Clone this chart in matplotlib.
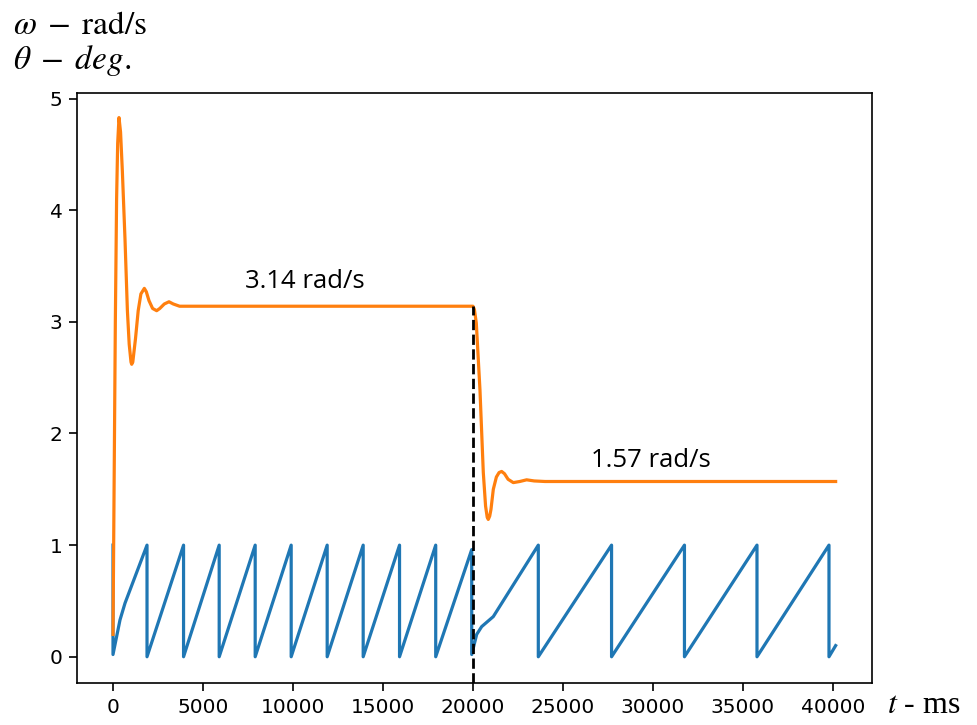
import matplotlib
matplotlib.use("Agg")
import matplotlib.pyplot as plt

# angular velocity omega (rad/s) vs time (ms)
omega_t = [0, 60, 130, 200, 260, 333, 420, 520, 667, 800, 900, 1000, 1039, 1100,
           1250, 1400, 1550, 1741, 1850, 2000, 2200, 2426, 2600, 2850, 3111,
           3350, 3700, 10000, 20000,
           20080, 20185, 20389, 20574, 20700, 20790, 20850, 20930, 21000, 21130,
           21300, 21450, 21593, 21750, 21950, 22240, 22600, 22981, 23400, 24000,
           30000, 40150]
omega_v = [0.2, 1.5, 3.0, 4.1, 4.6, 4.83, 4.7, 4.35, 3.74, 3.1, 2.8, 2.64, 2.62, 2.64,
           2.85, 3.1, 3.25, 3.30, 3.27, 3.19, 3.12, 3.10, 3.12, 3.16, 3.18,
           3.16, 3.14, 3.14, 3.14,
           3.11, 2.99, 2.39, 1.65, 1.35, 1.25, 1.23, 1.26, 1.32, 1.50,
           1.61, 1.65, 1.66, 1.64, 1.59, 1.56, 1.57, 1.585, 1.575, 1.57,
           1.57, 1.57]

# normalized angle theta vs time (ms)
theta_t = [0, 0, 389, 667, 1890, 1890, 3920, 3920, 5900, 5900, 7900, 7900,
           9900, 9900, 11900, 11900, 13900, 13900, 15920, 15920, 17930, 17930,
           19930, 19930, 20206, 20483, 21130, 23630, 23630, 27700, 27700,
           31750, 31750, 35780, 35780, 39780, 39780, 40150]
theta_v = [1.0, 0.02, 0.33, 0.48, 1.0, 0.0, 1.0, 0.0, 1.0, 0.0, 1.0, 0.0,
           1.0, 0.0, 1.0, 0.0, 1.0, 0.0, 1.0, 0.0, 1.0, 0.0,
           0.96, 0.02, 0.2, 0.27, 0.36, 1.0, 0.0, 1.0, 0.0,
           1.0, 0.0, 1.0, 0.0, 1.0, 0.0, 0.1]

switch_t = 20000
labels = ["3.14 rad/s", "1.57 rad/s"]
label_pos = [(7333, 3.30), (26537, 1.70)]

plt.rcParams["mathtext.fontset"] = "stix"

fig = plt.figure(figsize=(9.78, 7.25), dpi=100)
ax = fig.add_axes([77/978, 1-683/725, (872-77)/978, (683-93)/725])

ax.plot(theta_t, theta_v, color="#1f77b4", lw=2.3)
ax.plot(omega_t, omega_v, color="#ff7f0e", lw=2.3)

ax.set_xlim(-2000, 42170)
ax.set_ylim(-0.235, 5.05)
ax.plot([switch_t, switch_t], [-0.235, 3.14], color="black", lw=2, ls="--")

for s, (x, y) in zip(labels, label_pos):
    ax.text(x, y, s, fontsize=18.5, family="Open Sans", ha="left", va="baseline")

ax.set_xticks([0, 5000, 10000, 15000, 20000, 25000, 30000, 35000, 40000])
ax.set_yticks([0, 1, 2, 3, 4, 5])
ax.tick_params(labelsize=14.5, length=5.5, width=1.2, pad=5)
for sp in ax.spines.values():
    sp.set_linewidth(1.2)

fig.text(13/978, 1-34/725, r"$\omega\;-\;\mathrm{rad/s}$", fontsize=24, ha="left", va="baseline")
fig.text(13/978, 1-69/725, r"$\theta\;-\;deg.$", fontsize=24, ha="left", va="baseline")
fig.text(887/978, 1-713/725, r"$t$ - ms", fontsize=23, family="Liberation Serif",
         ha="left", va="baseline")

fig.savefig("out.png", dpi=100)
